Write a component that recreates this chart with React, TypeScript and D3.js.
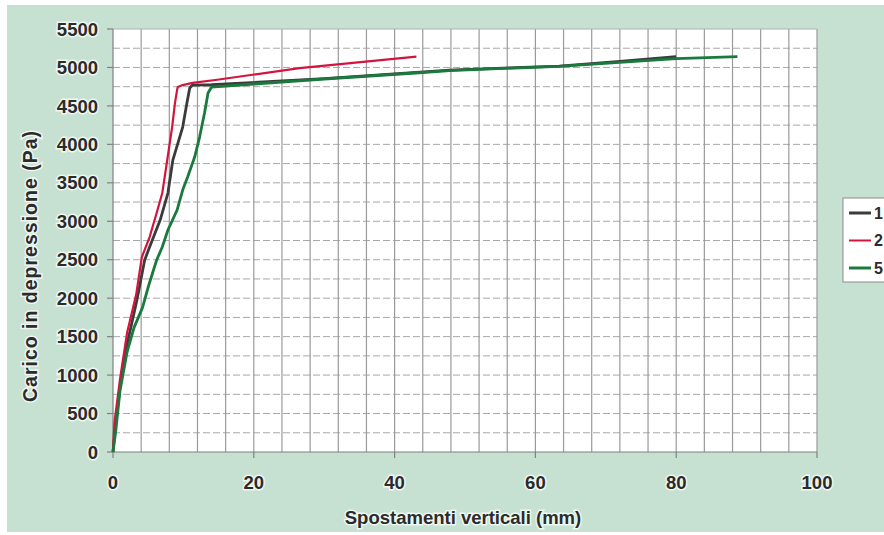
import React from 'react'
import * as d3 from 'd3'

const width = 884
const height = 535
const margin = { left: 113, right: 67, top: 29, bottom: 83 }

const xTicks = [0, 20, 40, 60, 80, 100]
const yTicks = [0, 500, 1000, 1500, 2000, 2500, 3000, 3500, 4000, 4500, 5000, 5500]
const seriesNames = ['1', '2', '5']
const seriesColors = ['#3b3b3b', '#d3143c', '#1a7a3e']

// spostamenti (mm) / carico (Pa) per prova
const spost1 = [0, 0.3, 1.0, 2.0, 3.4, 4.5, 5.2, 6.7, 7.8, 8.5, 9.9, 10.5, 10.9, 11.3, 14, 30, 47.8, 63.4, 72, 80]
const carico1 = [0, 300, 850, 1400, 1976, 2496, 2665, 3016, 3367, 3796, 4225, 4537, 4732, 4771, 4775, 4855, 4966, 5018, 5080, 5139]

const spost2 = [0, 0.2, 1.0, 2.0, 3.3, 4.1, 5.2, 6.2, 7.0, 7.7, 8.4, 8.8, 9.1, 9.2, 9.9, 11.3, 14.8, 26.5, 43.1]
const carico2 = [0, 380, 950, 1550, 2050, 2535, 2795, 3107, 3367, 3796, 4225, 4537, 4706, 4745, 4771, 4800, 4840, 4992, 5140]

const spost5 = [0, 0.4, 1.0, 2.0, 3.0, 4.2, 5.0, 6.2, 7.0, 7.8, 9.1, 9.9, 10.6, 11.6, 12.3, 13.0, 13.5, 14.0, 20, 30, 43.5, 47.8, 63.4, 80, 88.7]
const carico5 = [0, 280, 800, 1300, 1620, 1880, 2145, 2496, 2665, 2886, 3146, 3406, 3575, 3835, 4095, 4407, 4667, 4745, 4785, 4850, 4931, 4960, 5015, 5115, 5140]

const series = [
  { xs: spost1, ys: carico1 },
  { xs: spost2, ys: carico2 },
  { xs: spost5, ys: carico5 },
]

const font = '"Liberation Sans", Arial, sans-serif'

export default function App() {
  const x = d3.scaleLinear().domain([0, 100]).range([margin.left, width - margin.right])
  const y = d3.scaleLinear().domain([0, 5500]).range([height - margin.bottom, margin.top])
  const line = d3.line<number[]>().x(d => x(d[0])).y(d => y(d[1]))

  const vGrid = d3.range(4, 100, 4)
  const hGrid = d3.range(250, 5500, 250)
  const halo = { stroke: '#eef7f1', strokeWidth: 3, paintOrder: 'stroke' as const }

  return (
    <svg width={width} height={height} style={{ position: 'absolute', left: 0, top: 0, display: 'block' }}>
      <rect width={width} height={height} fill='#ffffff' />
      <rect x={7} y={5} width={width - 7} height={527} fill='#c6e1d2' />
      <rect x={x(0)} y={y(5500)} width={x(100) - x(0)} height={y(0) - y(5500)} fill='#ffffff' />

      {hGrid.map(v => (
        <line key={'h' + v} x1={x(0)} x2={x(100)} y1={y(v)} y2={y(v)}
          stroke='#a8a8a8' strokeWidth={1} strokeDasharray='7,3' />
      ))}
      {vGrid.map(v => (
        <line key={'v' + v} x1={x(v)} x2={x(v)} y1={y(0)} y2={y(5500)}
          stroke='#9a9a9a' strokeWidth={1.2} />
      ))}
      <line x1={x(100)} x2={x(100)} y1={y(0)} y2={y(5500)} stroke='#9a9a9a' strokeWidth={1.2} />
      <line x1={x(0)} x2={x(100)} y1={y(5500)} y2={y(5500)} stroke='#b0b0b0' strokeWidth={1} />

      {/* axes */}
      <line x1={x(0)} x2={x(0)} y1={y(0)} y2={y(5500)} stroke='#808080' strokeWidth={1.2} />
      <line x1={x(0)} x2={x(100)} y1={y(0)} y2={y(0)} stroke='#808080' strokeWidth={1.2} />
      {yTicks.map(t => (
        <g key={'yt' + t}>
          <line x1={x(0) - 6} x2={x(0)} y1={y(t)} y2={y(t)} stroke='#808080' strokeWidth={1.2} />
          <text x={98} y={y(t)} dy='0.36em' textAnchor='end' fontFamily={font} fontWeight='bold'
            fontSize={18.5} fill='#2b2b2b' {...halo}>{t}</text>
        </g>
      ))}
      {xTicks.map(t => (
        <g key={'xt' + t}>
          <line x1={x(t)} x2={x(t)} y1={y(0)} y2={y(0) + 6} stroke='#808080' strokeWidth={1.2} />
          <text x={x(t)} y={489} textAnchor='middle' fontFamily={font} fontWeight='bold'
            fontSize={18.5} fill='#2b2b2b' {...halo}>{t}</text>
        </g>
      ))}

      {series.map((s, i) => (
        <path key={'s' + i} d={line(s.xs.map((v, j) => [v, s.ys[j]])) || ''}
          fill='none' stroke={seriesColors[i]} strokeWidth={i === 1 ? 2.2 : 2.8} strokeLinejoin='round' />
      ))}

      <text x={463} y={524} textAnchor='middle' fontFamily={font} fontWeight='bold'
        fontSize={18.5} fill='#2b2b2b' {...halo}>Spostamenti verticali (mm)</text>
      <text transform={`translate(37, 266) rotate(-90)`} textAnchor='middle' fontFamily={font}
        fontWeight='bold' fontSize={19.5} letterSpacing={1} fill='#2b2b2b' {...halo}>Carico in depressione (Pa)</text>

      {/* legend */}
      <rect x={843} y={198} width={60} height={84} fill='#ffffff' stroke='#8c8c8c' strokeWidth={1} />
      {seriesNames.map((n, i) => (
        <g key={'l' + n}>
          <line x1={849} x2={871} y1={213 + i * 27.5} y2={213 + i * 27.5} stroke={seriesColors[i]}
            strokeWidth={i === 1 ? 2 : 3} />
          <text x={874} y={213 + i * 27.5} dy='0.36em' fontFamily={font} fontWeight='bold'
            fontSize={16} fill='#2b2b2b'>{n}</text>
        </g>
      ))}
    </svg>
  )
}
